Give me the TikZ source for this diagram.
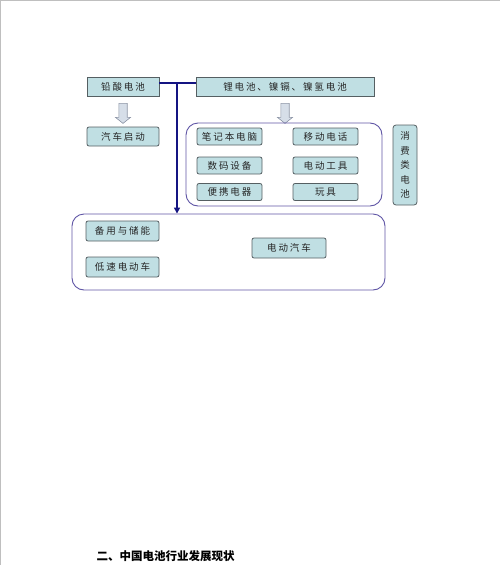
\documentclass[tikz,border=0pt]{standalone}
\usepackage{fontspec}
\setmainfont{Noto Sans CJK SC}
\usetikzlibrary{arrows.meta}

\definecolor{cellfill}{RGB}{192,223,227}
\definecolor{celledge}{RGB}{85,95,98}
\definecolor{groupedge}{RGB}{95,85,165}
\definecolor{navyline}{RGB}{20,20,130}
\definecolor{hollowfill}{RGB}{214,222,232}
\definecolor{hollowedge}{RGB}{140,148,165}

\tikzset{
  cell/.style={draw=celledge, fill=cellfill, line width=0.8pt, inner sep=0pt,
    text=black!85, font=\fontsize{9.5}{11}\selectfont\addfontfeatures{LetterSpace=20}},
  group/.style={draw=groupedge, line width=0.9pt, rounded corners=12pt, inner sep=0pt},
  hollow/.style={draw=hollowedge, fill=hollowfill, line width=0.6pt}
}

\begin{document}
\begin{tikzpicture}[x=1pt, y=-1pt]
  \useasboundingbox (0,0) rectangle (500,565);
  % page edge
  \draw[black!25, line width=1pt] (0.5,565) -- (0.5,0.5) -- (500,0.5);

  % top row
  \node[cell, minimum width=72pt, minimum height=19pt] (lead) at (123,86.5) {铅酸电池};
  \node[cell, minimum width=178pt, minimum height=19pt] (li) at (285,86.5) {锂电池、镍镉、镍氢电池};
  \node[cell, minimum width=72pt, minimum height=19pt, rounded corners=2pt] (start) at (123,136.5) {汽车启动};

  % hollow arrows
  \draw[hollow, shift={(lead.south)}] (-4.2,7) -- (4.2,7) -- (4.2,21) -- (7.5,21)
    -- (0,27) -- (-7.5,21) -- (-4.2,21) -- cycle;
  \draw[hollow, shift={(li.south)}] (-4.2,7) -- (4.2,7) -- (4.2,21) -- (7.5,21)
    -- (0,27) -- (-7.5,21) -- (-4.2,21) -- cycle;

  % consumer group
  \node[group, minimum width=196pt, minimum height=83pt] (consumer) at (284,164.5) {};
  \node[cell, minimum width=65pt, minimum height=17pt, rounded corners=2pt] (laptop) at (229.5,136.5) {笔记本电脑};
  \node[cell, minimum width=65pt, minimum height=17pt, rounded corners=2pt] (phone) at (325.5,136.5) {移动电话};
  \node[cell, minimum width=65pt, minimum height=17pt, rounded corners=2pt] (camera) at (229.5,165.5) {数码设备};
  \node[cell, minimum width=65pt, minimum height=17pt, rounded corners=2pt] (tool) at (325.5,165.5) {电动工具};
  \node[cell, minimum width=65pt, minimum height=17pt, rounded corners=2pt] (appliance) at (229.5,192) {便携电器};
  \node[cell, minimum width=65pt, minimum height=17pt, rounded corners=2pt] (toy) at (325.5,192) {玩具};
  \node[cell, minimum width=24pt, minimum height=80pt, rounded corners=3pt, align=center,
    font=\fontsize{9.5}{14.5}\selectfont] (tag) at (405,165) {消\\费\\类\\电\\池};

  % vehicle group
  \node[group, minimum width=313pt, minimum height=76pt] (vehicles) at (228.5,252) {};
  \node[cell, minimum width=73pt, minimum height=20pt, rounded corners=2pt] (backup) at (122.5,231) {备用与储能};
  \node[cell, minimum width=73pt, minimum height=20pt, rounded corners=2pt] (lowspeed) at (122.5,267) {低速电动车};
  \node[cell, minimum width=74pt, minimum height=20pt, rounded corners=2pt] (ev) at (289,248) {电动汽车};

  % connector
  \coordinate (j) at (177,83);
  \draw[navyline, line width=1.8pt] (lead.east |- j) -- (li.west |- j);
  \draw[navyline, line width=1.8pt, -{Triangle[length=6pt,width=6pt]}] (j) -- (vehicles.north -| j);

  \node[anchor=west, font=\bfseries\fontsize{11.5}{13}\selectfont] (title) at (93,556) {二、中国电池行业发展现状};
\end{tikzpicture}
\end{document}
